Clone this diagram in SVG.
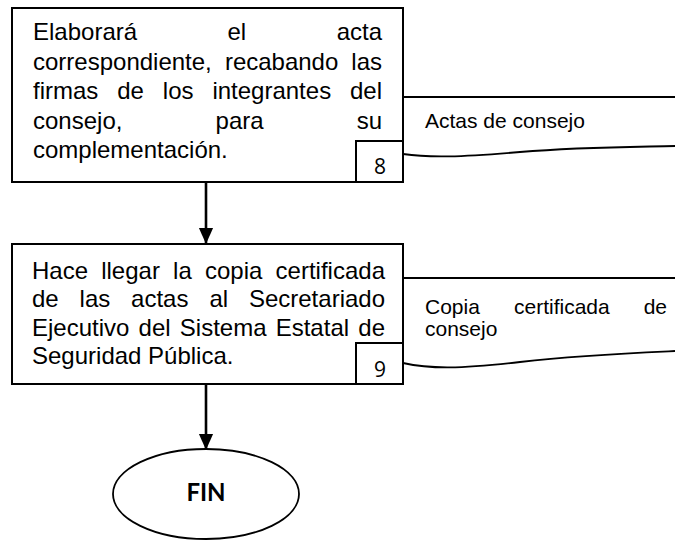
<svg xmlns="http://www.w3.org/2000/svg" width="675" height="543" viewBox="0 0 675 543">
<style>
.box{fill:#fff;stroke:#000;stroke-width:2}
.ln{fill:none;stroke:#000;stroke-width:1.8}
.t{font-family:"Liberation Sans",Arial,sans-serif;font-size:24px;fill:#000}
.s{font-family:"Liberation Sans",Arial,sans-serif;font-size:21px;fill:#000}
.n{font-family:"Open Sans","Liberation Sans",sans-serif;font-size:21px;fill:#000}
.e{text-anchor:end}
.conn{fill:none;stroke:#000;stroke-width:2.6}
</style>
<defs>
<marker id="ah" markerWidth="16" markerHeight="18" refX="17" refY="8" orient="auto" markerUnits="userSpaceOnUse" viewBox="0 0 18 16">
<path d="M0,0 L18,8 L0,16 z" fill="#000"/>
</marker>
</defs>
<rect width="675" height="543" fill="#fff"/>

<g id="doc1">
<path class="ln" d="M403,97 L675,97"/>
<path class="ln" d="M403,154 C430,158 460,157 520,152 C580,147 630,147 675,146"/>
<text class="s" x="425" y="128">Actas de consejo</text>
</g>

<g id="doc2">
<path class="ln" d="M403,278 L675,278"/>
<path class="ln" d="M403,363 C430,369 460,369 520,362 C580,355 630,353 675,351"/>
<text class="s" y="314"><tspan x="425">Copia</tspan><tspan x="514">certificada</tspan><tspan x="667" class="e">de</tspan></text>
<text class="s" x="425" y="336">consejo</text>
</g>

<g id="node8">
<rect class="box" x="12" y="8" width="391" height="174"/>
<text class="t" y="40"><tspan x="33">Elaborará</tspan><tspan x="227.5">el</tspan><tspan x="382" class="e">acta</tspan></text>
<text class="t" y="70"><tspan x="33">correspondiente,</tspan><tspan x="224.9">recabando</tspan><tspan x="382" class="e">las</tspan></text>
<text class="t" y="99"><tspan x="33">firmas</tspan><tspan x="117.2">de</tspan><tspan x="162.8">los</tspan><tspan x="212.4">integrantes</tspan><tspan x="382" class="e">del</tspan></text>
<text class="t" y="129"><tspan x="33">consejo,</tspan><tspan x="215.6">para</tspan><tspan x="382" class="e">su</tspan></text>
<text class="t" x="33" y="158">complementación.</text>
<rect class="box" x="356" y="141" width="47" height="41"/>
<text class="n" x="380" y="174" text-anchor="middle">8</text>
</g>

<g id="node9">
<rect class="box" x="12" y="244" width="391" height="140"/>
<text class="t" y="279"><tspan x="32">Hace</tspan><tspan x="101.2">llegar</tspan><tspan x="173.1">la</tspan><tspan x="205">copia</tspan><tspan x="385" class="e">certificada</tspan></text>
<text class="t" y="307"><tspan x="32">de</tspan><tspan x="79.6">las</tspan><tspan x="131.1">actas</tspan><tspan x="209.4">al</tspan><tspan x="385" class="e">Secretariado</tspan></text>
<text class="t" y="336"><tspan x="32">Ejecutivo</tspan><tspan x="138.6">del</tspan><tspan x="179.8">Sistema</tspan><tspan x="275.7">Estatal</tspan><tspan x="385" class="e">de</tspan></text>
<text class="t" x="32" y="364">Seguridad Pública.</text>
<rect class="box" x="356" y="343" width="47" height="41"/>
<text class="n" x="380" y="377" text-anchor="middle">9</text>
</g>

<g id="fin">
<ellipse cx="206" cy="494" rx="93" ry="45" fill="#fff" stroke="#000" stroke-width="1.8"/>
<text x="206" y="501" text-anchor="middle" style="font-family:Lato,'Open Sans',sans-serif;font-weight:bold;font-size:24px">FIN</text>
</g>

<g id="connectors">
<line class="conn" x1="206" y1="182" x2="206" y2="243" marker-end="url(#ah)"/>
<line class="conn" x1="206" y1="384" x2="206" y2="449" marker-end="url(#ah)"/>
</g>
</svg>
